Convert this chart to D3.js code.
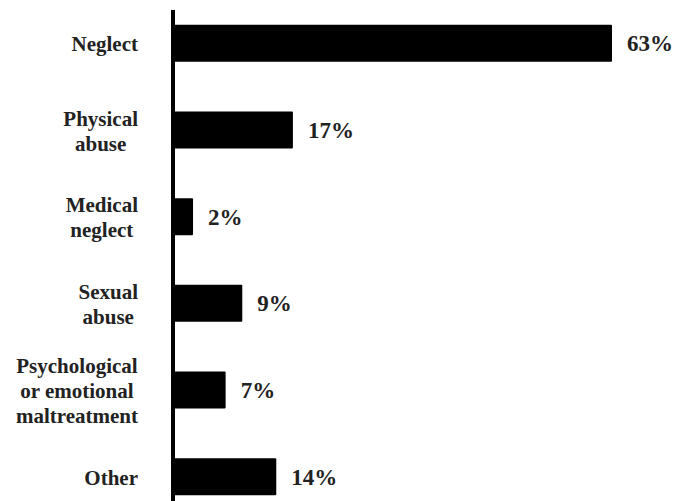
<!DOCTYPE html>
<html><head><meta charset="utf-8">
<script src="https://cdn.jsdelivr.net/npm/d3@7"></script>
<style>html,body{margin:0;padding:0;background:#fff;overflow:hidden}
text{font-family:"Liberation Serif","Times New Roman",Times,"DejaVu Serif",serif;font-weight:bold}</style>
</head><body>
<svg id="chart" width="693" height="501"></svg>
<script>
const categories = [
  ["Neglect"],
  ["Physical", "abuse"],
  ["Medical", "neglect"],
  ["Sexual", "abuse"],
  ["Psychological", "or emotional", "maltreatment"],
  ["Other"]
];
const values = [63, 17, 2.6, 9.7, 7.3, 14.6];
const valueLabels = ["63%", "17%", "2%", "9%", "7%", "14%"];

const svg = d3.select("#chart");
const ids = categories.map((c, i) => i);
const x = d3.scaleLinear().domain([0, 63]).range([175, 612]);
const y = d3.scaleBand().domain(ids).range([0, 520]).paddingInner(0.573).paddingOuter(0.2865);

svg.selectAll("rect.bar").data(ids).join("rect")
  .attr("class", "bar")
  .attr("x", x(0) - 1)
  .attr("y", i => y(i))
  .attr("width", i => x(values[i]) - x(0) + 1)
  .attr("height", y.bandwidth())
  .attr("rx", 1)
  .attr("fill", "#000");

// axis line
svg.append("line")
  .attr("x1", 173).attr("x2", 173)
  .attr("y1", 10).attr("y2", 501)
  .attr("stroke", "#000").attr("stroke-width", 4);

const lineH = 25;
const rightEdge = 138;

categories.forEach((lines, i) => {
  const cy = y(i) + y.bandwidth() / 2;
  const t = svg.append("text")
    .style("font-size", "21px").attr("fill", "#222")
    .attr("text-anchor", "middle");
  const spans = lines.map((ln, j) => t.append("tspan")
    .attr("y", cy + (j - (lines.length - 1) / 2) * lineH + 8)
    .text(ln));
  let maxW = 0;
  spans.forEach(s => { maxW = Math.max(maxW, s.node().getComputedTextLength()); });
  spans.forEach(s => s.attr("x", rightEdge - maxW / 2));
});

svg.selectAll("text.val").data(ids).join("text")
  .attr("class", "val")
  .attr("x", i => x(values[i]) + 15)
  .attr("y", i => y(i) + y.bandwidth() / 2 + 8)
  .style("font-size", "23px").attr("fill", "#222")
  .text(i => valueLabels[i]);
</script>
</body></html>
